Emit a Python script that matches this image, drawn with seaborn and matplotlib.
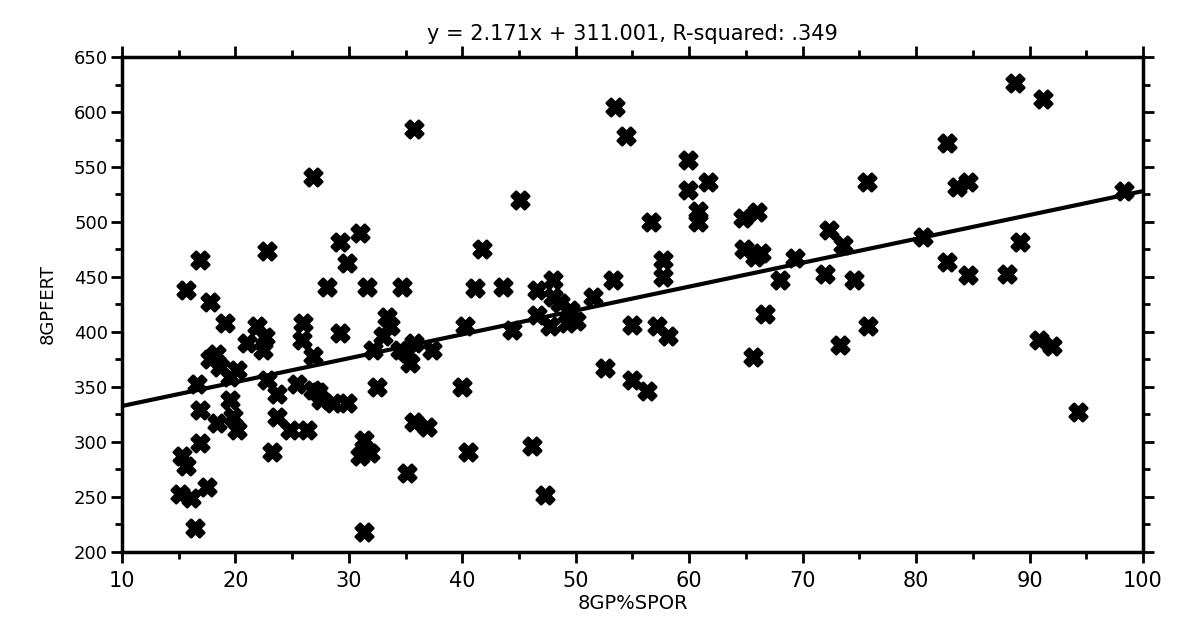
import matplotlib
matplotlib.use("Agg")
import matplotlib.pyplot as plt
import seaborn as sns
import pandas as pd
import numpy as np
from matplotlib.ticker import MultipleLocator
from matplotlib.markers import MarkerStyle

spor = [15.6, 15.3, 15.6, 15.1, 16.1, 17.5, 16.4, 16.9, 17.8, 16.6, 17.8, 16.9, 16.9, 18.4,
        19.1, 18.3, 18.6, 19.5, 20.1, 19.5, 19.8, 20.1, 21.0, 21.9, 22.4, 22.6, 22.8, 22.8,
        23.2, 23.7, 23.7, 24.8, 25.4, 26.3, 26.0, 25.9, 26.8, 26.8, 27.5, 26.8, 27.3, 28.1,
        28.6, 29.8, 29.2, 29.2, 29.8, 31.0, 31.6, 34.7, 33.4, 33.0, 32.1, 32.5, 31.3, 31.9,
        31.0, 31.3, 33.6, 35.1, 34.5, 35.7, 37.3, 35.4, 35.7, 36.9, 35.1, 35.7, 40.2, 40.0,
        40.5, 41.1, 41.7, 43.6, 44.4, 45.1, 46.1, 46.6, 46.6, 47.3, 48.0, 48.0, 47.7, 48.6,
        49.2, 49.5, 50.0, 51.5, 52.6, 53.3, 53.5, 54.4, 55.0, 55.0, 56.3, 56.6, 57.2, 58.1,
        57.7, 57.7, 59.9, 59.9, 61.7, 60.8, 60.8, 64.7, 66.0, 64.8, 66.3, 65.8, 66.7, 65.6,
        68.0, 69.3, 72.3, 73.6, 72.0, 74.5, 73.3, 75.8, 75.7, 80.6, 82.7, 82.7, 83.6, 84.6,
        84.6, 88.0, 88.7, 89.2, 90.8, 92.0, 91.2, 94.3, 98.3]
fert = [438, 287, 278, 253, 249, 259, 222, 465, 427, 353, 375, 329, 299, 317,
        408, 380, 368, 359, 365, 338, 323, 311, 390, 405, 384, 395, 474, 356,
        291, 344, 323, 311, 353, 311, 408, 393, 378, 347, 338, 541, 345, 441,
        335, 335, 399, 482, 463, 490, 441, 441, 414, 396, 384, 350, 302, 290,
        287, 218, 405, 381, 384, 390, 384, 372, 318, 314, 272, 585, 405, 350,
        291, 440, 475, 441, 402, 520, 296, 438, 415, 252, 447, 432, 405, 426,
        408, 420, 410, 432, 367, 447, 605, 578, 406, 356, 346, 500, 405, 396,
        465, 450, 556, 529, 536, 510, 500, 504, 509, 475, 472, 468, 416, 377,
        447, 467, 493, 479, 453, 447, 388, 405, 536, 486, 572, 464, 532, 536,
        452, 453, 626, 482, 393, 387, 612, 327, 528]

slope = 2.171
intercept = 311.001
title_text = "y = 2.171x + 311.001, R-squared: .349"
x_ticks = list(range(10, 101, 10))
y_ticks = list(range(200, 651, 50))

df = pd.DataFrame({"8GP%SPOR": spor, "8GPFERT": fert})

sns.set_style("ticks")
plt.rcParams['font.family'] = ['DejaVu Sans']
for k in ["text.color", "axes.labelcolor", "xtick.color", "ytick.color"]:
    plt.rcParams[k] = "black"

fig = plt.figure(figsize=(11.82, 6.23), dpi=100)
ax = fig.add_axes([0.1032, 0.114, 0.8638, 0.7945])

mk = MarkerStyle("X", joinstyle="round")
sns.scatterplot(data=df, x="8GP%SPOR", y="8GPFERT", marker=mk, s=150,
                color="black", edgecolor="black", linewidth=2.2, ax=ax, zorder=3)

xl = np.array([10, 100])
ax.plot(xl, slope * xl + intercept, color="black", lw=3, zorder=2)

ax.set_xlim(10, 100)
ax.set_ylim(200, 650)
ax.set_xticks(x_ticks)
ax.set_yticks(y_ticks)
ax.xaxis.set_minor_locator(MultipleLocator(5))
ax.yaxis.set_minor_locator(MultipleLocator(25))
ax.tick_params(axis="both", which="both", direction="out", color="black",
               labelcolor="black", top=True, right=True, width=2)
ax.tick_params(which="major", length=8)
ax.tick_params(which="minor", length=5)
ax.tick_params(axis="x", labelsize=15, pad=6)
ax.tick_params(axis="y", labelsize=13, pad=2)
for sp in ax.spines.values():
    sp.set_linewidth(2.5)
    sp.set_color("black")

ax.set_xlabel("8GP%SPOR", fontsize=14, labelpad=2, color="black")
ax.set_ylabel("8GPFERT", fontsize=13, labelpad=12, color="black")
ax.set_title(title_text, fontsize=15, pad=12, color="black")

fig.savefig("out.png", dpi=100)
